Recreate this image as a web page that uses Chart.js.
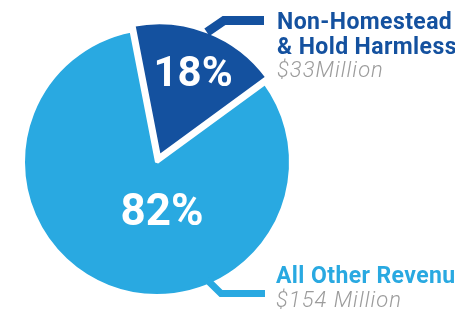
<!DOCTYPE html>
<html>
<head>
<meta charset="utf-8">
<script src="https://cdn.jsdelivr.net/npm/chart.js@4.4.1/dist/chart.umd.min.js"></script>
<style>
  html, body { margin: 0; padding: 0; background: #ffffff; overflow: hidden; }
  #wrap { position: absolute; left: 0; top: 0; width: 455px; height: 311px; }
</style>
</head>
<body>
<div id="wrap"><canvas id="c" width="455" height="311"></canvas></div>
<script>
// ---- data ----
const categories = ["Non-Homestead & Hold Harmless", "All Other Revenue"];
const shares = [18, 82];
const percentLabels = ["18%", "82%"];
const titleLines = [["Non-Homestead", "& Hold Harmless"], ["All Other Revenue"]];
const amountLabels = ["$33Million", "$154 Million"];
const colors = ["#14519F", "#29A9E1"];

// ---- layout (styles / positions, not data) ----
const pctFont = ["bold 42px Roboto", "bold 44px Roboto"];
// percent label anchor (center x, baseline): angle clockwise from 12 o'clock, radius fraction
const pctPlace = [{a: 26, r: 0.546}, {a: 175.5, r: 0.472}];
const sideText = [{x: 277, y: 29}, {x: 276, y: 283}];
const lineGap = 24.5;
// connectors: angle on slice rim, elbow point, end x, width
const connectors = [
  {a: 21, elbow: [224, 20.5], endX: 264, w: 9},
  {a: 157, elbow: [221, 293.5], endX: 265, w: 7}
];

const labelPlugin = {
  id: 'labels',
  afterDatasetsDraw(chart) {
    const ctx = chart.ctx;
    const meta = chart.getDatasetMeta(0);
    meta.data.forEach((arc, i) => {
      // Chart.js translates arcs smaller than a half circle by offset/2
      let off = arc.options.offset || 0;
      if (arc.circumference < Math.PI) off = off / 2;
      const mid = (arc.startAngle + arc.endAngle) / 2;
      const cx = arc.x + Math.cos(mid) * off;
      const cy = arc.y + Math.sin(mid) * off;
      const R = arc.outerRadius;
      // connector
      const c = connectors[i];
      const ca = (c.a - 90) * Math.PI / 180;
      const sx = cx + Math.cos(ca) * (R - 6);
      const sy = cy + Math.sin(ca) * (R - 6);
      ctx.save();
      ctx.strokeStyle = colors[i];
      ctx.lineWidth = c.w;
      ctx.lineJoin = 'miter';
      ctx.lineCap = 'butt';
      ctx.beginPath();
      ctx.moveTo(sx, sy);
      ctx.lineTo(c.elbow[0], c.elbow[1]);
      ctx.lineTo(c.endX, c.elbow[1]);
      ctx.stroke();
      ctx.restore();
      // percent label
      const p = pctPlace[i];
      const pa = (p.a - 90) * Math.PI / 180;
      ctx.save();
      ctx.fillStyle = '#ffffff';
      ctx.font = pctFont[i];
      ctx.textAlign = 'center';
      ctx.textBaseline = 'alphabetic';
      ctx.fillText(percentLabels[i], cx + Math.cos(pa) * R * p.r, cy + Math.sin(pa) * R * p.r);
      ctx.restore();
      // side labels
      const t = sideText[i];
      ctx.save();
      ctx.textAlign = 'left';
      ctx.textBaseline = 'alphabetic';
      ctx.fillStyle = colors[i];
      ctx.font = 'bold 23px Roboto';
      ctx.letterSpacing = '0.4px';
      let y = t.y;
      titleLines[i].forEach(line => { ctx.fillText(line, t.x, y); y += lineGap; });
      ctx.fillStyle = '#9C9C9C';
      ctx.font = 'italic 300 22px Roboto';
      ctx.letterSpacing = '1px';
      ctx.fillText(amountLabels[i], t.x, y - 1);
      ctx.restore();
    });
  }
};

new Chart(document.getElementById('c'), {
  type: 'pie',
  data: {
    labels: categories,
    datasets: [{
      data: shares,
      backgroundColor: colors,
      borderColor: '#ffffff',
      borderWidth: 4,
      offset: [22, 0],
      hoverOffset: 0
    }]
  },
  options: {
    responsive: false,
    animation: false,
    rotation: -11,
    radius: 134,
    layout: { padding: { left: 0, right: 141, top: 13, bottom: 0 } },
    plugins: { legend: { display: false }, tooltip: { enabled: false } },
    events: []
  },
  plugins: [labelPlugin]
});
</script>
</body>
</html>
